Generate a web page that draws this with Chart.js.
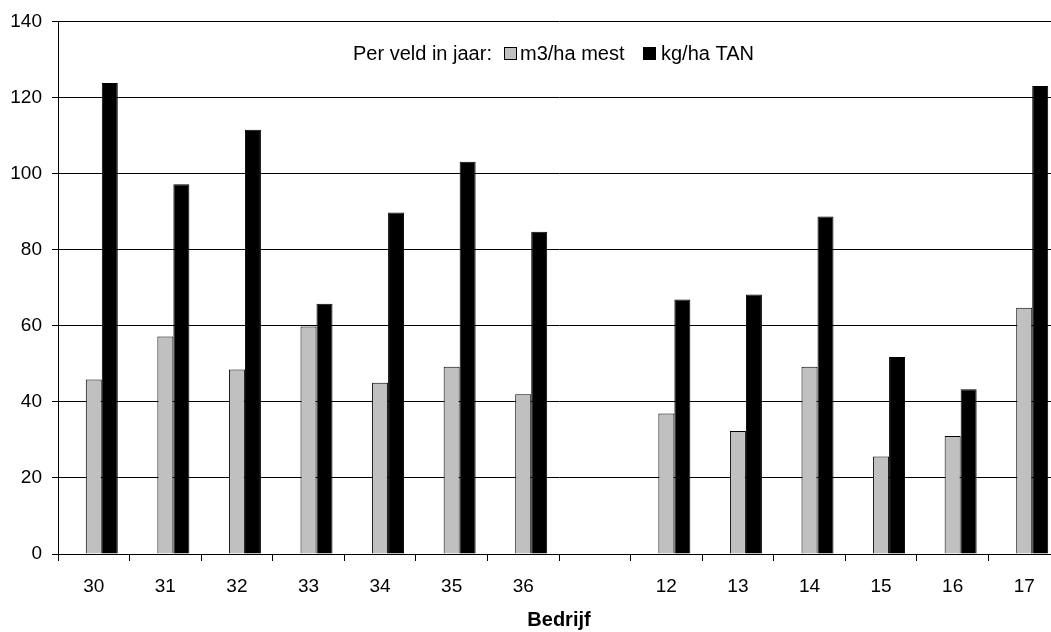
<!DOCTYPE html>
<html>
<head>
<meta charset="utf-8">
<script src="https://cdn.jsdelivr.net/npm/chart.js@4"></script>
<style>
html,body{margin:0;padding:0;background:#fff;overflow:hidden;width:1051px;height:632px;}
#wrap{position:absolute;left:0;top:0;width:1060px;height:632px;}
</style>
</head>
<body>
<div id="wrap"><canvas id="c" width="1060" height="632"></canvas></div>
<script>
const categories = ['30','31','32','33','34','35','36','','12','13','14','15','16','17'];
const mestValues = [45.9,57.2,48.5,59.8,45.0,49.2,42.0,null,36.9,32.3,49.2,25.6,31.0,64.7];
const tanValues = [123.8,97.2,111.5,65.8,89.8,103.1,84.7,null,66.9,68.2,88.7,51.8,43.3,123.0];
const emptyValues = categories.map(() => null);
const legendPrefix = 'Per veld in jaar:';
const seriesNames = ['m3/ha mest','kg/ha TAN'];
const axisTitle = 'Bedrijf';

Chart.defaults.font.family = '"Liberation Sans", Arial, sans-serif';
Chart.defaults.color = '#000';

const legendPlugin = {
  id: 'inlineLegend',
  afterDraw(chart) {
    const ctx = chart.ctx;
    ctx.save();
    ctx.font = '20px "Liberation Sans", Arial, sans-serif';
    ctx.fillStyle = '#000';
    ctx.textBaseline = 'middle';
    const y = 54;
    ctx.fillText(legendPrefix, 353, y);
    const boxX = [504, 643];
    const textX = [520, 661];
    const colors = ['#C0C0C0','#000000'];
    seriesNames.forEach((name, i) => {
      ctx.fillStyle = colors[i];
      ctx.fillRect(boxX[i] + 0.5, 47.5, 12, 12);
      ctx.strokeStyle = '#000';
      ctx.lineWidth = 1;
      ctx.strokeRect(boxX[i] + 0.5, 47.5, 12, 12);
      ctx.fillStyle = '#000';
      ctx.fillText(name, textX[i], y);
    });
    ctx.restore();
  }
};

new Chart(document.getElementById('c'), {
  type: 'bar',
  data: {
    labels: categories,
    datasets: [
      { label: '', data: emptyValues, backgroundColor: 'rgba(0,0,0,0)', borderWidth: 0 },
      { label: seriesNames[0], data: mestValues, backgroundColor: '#C0C0C0', borderColor: '#000', borderWidth: 1 },
      { label: seriesNames[1], data: tanValues, backgroundColor: '#000', borderColor: '#000', borderWidth: 1 }
    ]
  },
  options: {
    responsive: false,
    animation: false,
    layout: { padding: { top: 20, left: 0, right: 0, bottom: 0 } },
    datasets: { bar: { categoryPercentage: 0.6707, barPercentage: 1.0 } },
    plugins: { legend: { display: false }, tooltip: { enabled: false } },
    scales: {
      x: {
        offset: true,
        grid: { offset: true, drawOnChartArea: false, drawTicks: true, tickLength: 7, color: '#000' },
        border: { color: '#000', width: 1 },
        ticks: { font: { size: 19 }, padding: 14, maxRotation: 0, autoSkip: false },
        title: { display: true, text: axisTitle, font: { size: 20, weight: 'bold' }, padding: { top: 0, bottom: 0 } },
        afterFit(scale) { scale.height = 78; }
      },
      y: {
        min: 0, max: 140,
        ticks: { stepSize: 20, font: { size: 19 }, padding: 10 },
        grid: { color: '#000', lineWidth: 1, drawTicks: true, tickLength: 6 },
        border: { color: '#000', width: 1 },
        afterFit(scale) { scale.width = 58; }
      }
    }
  },
  plugins: [legendPlugin]
});
</script>
</body>
</html>
